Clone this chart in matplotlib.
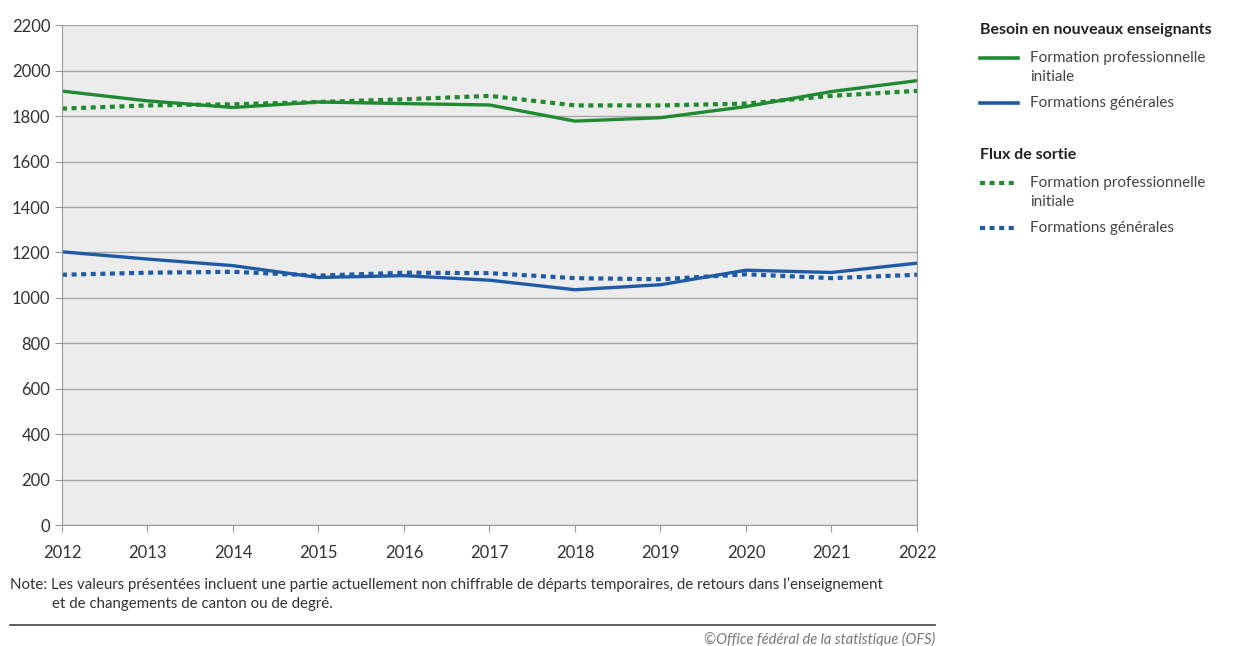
import matplotlib.pyplot as plt
from matplotlib.lines import Line2D

# Data
years = [2012, 2013, 2014, 2015, 2016, 2017, 2018, 2019, 2020, 2021, 2022]
besoin_fpi = [1910, 1867, 1838, 1862, 1855, 1849, 1778, 1793, 1842, 1908, 1956]
besoin_fg = [1203, 1171, 1142, 1090, 1098, 1078, 1036, 1058, 1122, 1112, 1153]
sortie_fpi = [1833, 1847, 1852, 1862, 1874, 1889, 1847, 1847, 1855, 1889, 1911]
sortie_fg = [1102, 1111, 1115, 1098, 1111, 1109, 1087, 1082, 1104, 1087, 1102]
y_ticks = list(range(0, 2201, 200))

green = '#1f8a2f'
blue = '#1f5aa6'
plt.rcParams['font.family'] = ['Lato', 'DejaVu Sans']

fig = plt.figure(figsize=(12.4, 6.46), dpi=100)
ax = fig.add_axes([0.05, 0.187, 0.6895, 0.774])
ax.set_facecolor('#ececec')

ax.plot(years, besoin_fpi, color=green, lw=2.4, solid_capstyle='butt')
ax.plot(years, besoin_fg, color=blue, lw=2.4, solid_capstyle='butt')
ax.plot(years, sortie_fpi, color=green, lw=3, dashes=(1.2, 1.1))
ax.plot(years, sortie_fg, color=blue, lw=3, dashes=(1.2, 1.1))

ax.set_xlim(2012, 2022)
ax.set_ylim(0, 2200)
ax.set_xticks(years)
ax.set_yticks(y_ticks)
ax.grid(axis='y', color='#a6a6a6', lw=1)
ax.set_axisbelow(True)
ax.spines['top'].set_visible(False)
for s in ['left', 'right', 'bottom']:
    ax.spines[s].set_color('#9a9a9a')
ax.tick_params(axis='both', colors='#9a9a9a', labelcolor='#333333', labelsize=12, length=5)
ax.tick_params(axis='x', pad=9)


def fy(py):
    return 1 - py / 646


# Legend drawn manually
lx0, lx1, tx = 980 / 1240, 1018 / 1240, 1030 / 1240
fig.text(lx0, fy(30), 'Besoin en nouveaux enseignants', fontsize=11.5, fontweight='bold',
         color='#222222', va='center')
fig.text(lx0, fy(155), 'Flux de sortie', fontsize=11.5, fontweight='bold', color='#222222', va='center')
entries = [
    (58, green, None, 'Formation professionnelle', 'initiale'),
    (103, blue, None, 'Formations générales', None),
    (183, green, (1.2, 1.1), 'Formation professionnelle', 'initiale'),
    (228, blue, (1.2, 1.1), 'Formations générales', None),
]
for py, c, dash, label, label2 in entries:
    ln = Line2D([lx0, lx1], [fy(py), fy(py)], transform=fig.transFigure, color=c,
                lw=3 if dash else 2.6)
    if dash:
        ln.set_dashes(dash)
    fig.add_artist(ln)
    fig.text(tx, fy(py), label, fontsize=11, color='#444444', va='center')
    if label2:
        fig.text(tx, fy(py + 19), label2, fontsize=11, color='#444444', va='center')

fig.text(10 / 1240, fy(585), 'Note: Les valeurs présentées incluent une partie actuellement non chiffrable '
         'de départs temporaires, de retours dans l\u2019enseignement', fontsize=10.8, color='#333333',
         va='center')
fig.text(52 / 1240, fy(604), 'et de changements de canton ou de degré.', fontsize=10.8, color='#333333',
         va='center')
fig.add_artist(Line2D([10 / 1240, 935 / 1240], [fy(625), fy(625)], transform=fig.transFigure,
                      color='#444444', lw=1.2))
fig.text(935 / 1240, fy(639), '\u00a9Office fédéral de la statistique (OFS)', fontsize=10.5,
         style='italic', color='#777777', ha='right', va='center')

fig.savefig('out.png', dpi=100)
